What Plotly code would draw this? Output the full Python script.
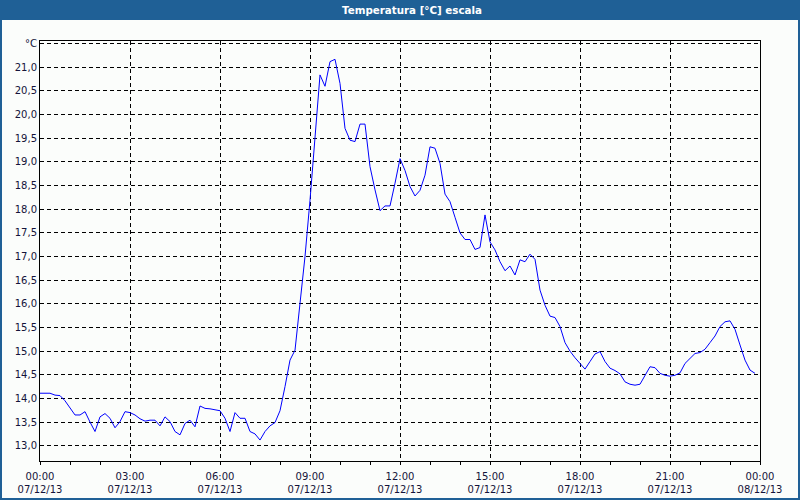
import pandas as pd
import plotly.graph_objects as go

# 10-minute readings, 07/12/13 00:00 .. 23:50
start_time = "2013-12-07 00:00"
step_minutes = 10
temperature = [
    14.11, 14.11, 14.11, 14.07, 14.06, 13.95, 13.80, 13.65, 13.65, 13.72,
    13.50, 13.30, 13.61, 13.68, 13.58, 13.38, 13.51, 13.72, 13.70, 13.65,
    13.57, 13.52, 13.54, 13.54, 13.42, 13.61, 13.51, 13.30, 13.23, 13.47,
    13.54, 13.40, 13.84, 13.79, 13.78, 13.76, 13.74, 13.58, 13.30, 13.70,
    13.58, 13.58, 13.30, 13.25, 13.12, 13.30, 13.42, 13.49, 13.74, 14.25,
    14.81, 15.02, 16.01, 17.00, 18.19, 19.46, 20.84, 20.60, 21.12, 21.17,
    20.66, 19.71, 19.46, 19.43, 19.80, 19.80, 18.90, 18.41, 17.97, 18.07,
    18.07, 18.55, 19.07, 18.82, 18.48, 18.28, 18.40, 18.72, 19.32, 19.29,
    18.97, 18.32, 18.16, 17.83, 17.50, 17.36, 17.36, 17.15, 17.19, 17.88,
    17.31, 17.14, 16.89, 16.70, 16.80, 16.61, 16.93, 16.89, 17.05, 16.94,
    16.29, 15.97, 15.74, 15.71, 15.52, 15.18, 15.00, 14.86, 14.73, 14.62,
    14.78, 14.94, 14.99, 14.78, 14.64, 14.59, 14.52, 14.35, 14.30, 14.28,
    14.30, 14.49, 14.67, 14.65, 14.53, 14.49, 14.47, 14.49, 14.54, 14.74,
    14.85, 14.95, 14.97, 15.04, 15.18, 15.32, 15.52, 15.62, 15.64, 15.46,
    15.13, 14.81, 14.60, 14.53,
]
times = pd.date_range(start_time, periods=len(temperature), freq=f"{step_minutes}min")

x_tick_values = ["2013-12-07 00:00", "2013-12-07 03:00", "2013-12-07 06:00",
                 "2013-12-07 09:00", "2013-12-07 12:00", "2013-12-07 15:00",
                 "2013-12-07 18:00", "2013-12-07 21:00", "2013-12-08 00:00"]
x_tick_labels = ["00:00<br>07/12/13", "03:00<br>07/12/13", "06:00<br>07/12/13",
                 "09:00<br>07/12/13", "12:00<br>07/12/13", "15:00<br>07/12/13",
                 "18:00<br>07/12/13", "21:00<br>07/12/13", "00:00<br>08/12/13"]
y_tick_values = [13.0, 13.5, 14.0, 14.5, 15.0, 15.5, 16.0, 16.5, 17.0,
                 17.5, 18.0, 18.5, 19.0, 19.5, 20.0, 20.5, 21.0, 21.5]
y_tick_labels = ["13,0", "13,5", "14,0", "14,5", "15,0", "15,5", "16,0", "16,5",
                 "17,0", "17,5", "18,0", "18,5", "19,0", "19,5", "20,0", "20,5",
                 "21,0", "°C"]

BLUE_BAR = "#1f6096"
BG = "#fbfdfb"
TXT = "#14143a"
W, H = 800, 500
ML, MR, MT, MB = 40, 40, 41, 39
PW, PH = W - ML - MR, H - MT - MB


def px_x(p):
    return (p - ML) / PW


def px_y(p):
    return (H - MB - p) / PH


fig = go.Figure(go.Scatter(
    x=times, y=temperature, mode="lines",
    line=dict(color="#0000ff", width=1), hoverinfo="x+y",
))

fig.update_layout(
    width=W, height=H,
    margin=dict(l=ML, r=MR, t=MT, b=MB, pad=0, autoexpand=False),
    paper_bgcolor=BG, plot_bgcolor=BG,
    showlegend=False,
    font=dict(family="DejaVu Sans", size=10, color=TXT),
    title=dict(text="<b>Temperatura [°C] escala</b>", x=412 / W, xanchor="center",
               y=1 - 10 / H, yanchor="middle", yref="container",
               font=dict(family="DejaVu Sans", size=10.3, color="white")),
    shapes=[
        dict(type="rect", xref="paper", yref="paper",
             x0=px_x(0), x1=px_x(W), y0=px_y(20), y1=px_y(0),
             fillcolor=BLUE_BAR, line=dict(width=0), layer="below"),
        dict(type="rect", xref="paper", yref="paper",
             x0=px_x(1), x1=px_x(W - 1), y0=px_y(H - 1), y1=px_y(1),
             fillcolor="rgba(0,0,0,0)", line=dict(color=BLUE_BAR, width=2)),
    ],
)

fig.update_xaxes(
    type="date", automargin=False,
    range=["2013-12-07 00:00", "2013-12-08 00:00"],
    tickmode="array", tickvals=x_tick_values, ticktext=x_tick_labels,
    ticks="outside", ticklen=3, tickcolor="black", tickwidth=1,
    ticklabelstandoff=3,
    minor=dict(tickmode="linear", tick0="2013-12-07 00:00", dtick=3600000,
               ticks="outside", ticklen=3, tickcolor="black", showgrid=False),
    showline=True, linecolor="black", linewidth=1, mirror=True,
    showgrid=True, gridcolor="black", gridwidth=1, griddash="4px,3px",
    zeroline=False, tickfont=dict(size=10, color=TXT),
)
fig.update_yaxes(
    range=[12.677, 21.557], automargin=False,
    tickmode="array", tickvals=y_tick_values, ticktext=y_tick_labels,
    ticks="", showline=True, linecolor="black", linewidth=1, mirror=True,
    showgrid=True, gridcolor="black", gridwidth=1, griddash="4px,3px",
    zeroline=False, tickfont=dict(size=10, color=TXT),
)

fig.write_html("out.html")
